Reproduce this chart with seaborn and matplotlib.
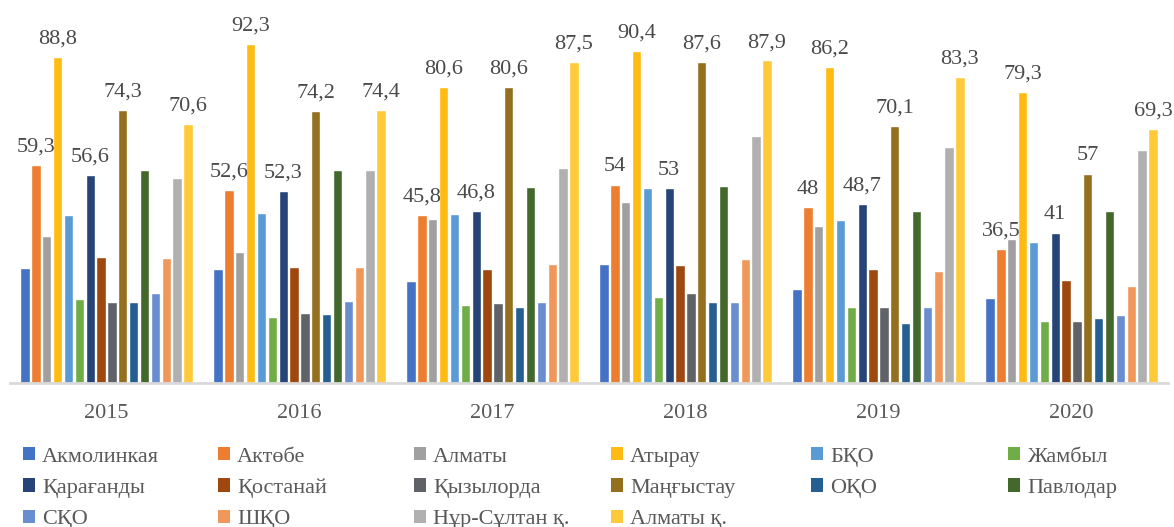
import matplotlib
matplotlib.use("Agg")
import matplotlib.pyplot as plt
from matplotlib.patches import Patch
import seaborn as sns
import pandas as pd

years = ["2015", "2016", "2017", "2018", "2019", "2020"]
regions = ["Акмолинкая", "Актөбе", "Алматы", "Атырау", "БҚО", "Жамбыл",
           "Қарағанды", "Қостанай", "Қызылорда", "Маңғыстау", "ОҚО", "Павлодар",
           "СҚО", "ШҚО", "Нұр-Сұлтан қ.", "Алматы қ."]

akmola     = [31.3, 31.0, 27.8, 32.3, 25.6, 23.2]
aktobe     = [59.3, 52.6, 45.8, 54.0, 48.0, 36.5]
almaty     = [40.0, 35.7, 44.7, 49.2, 42.8, 39.2]
atyrau     = [88.8, 92.3, 80.6, 90.4, 86.2, 79.3]
bko        = [45.8, 46.3, 46.0, 53.1, 44.4, 38.4]
zhambyl    = [22.9, 18.0, 21.2, 23.4, 20.7, 16.9]
karagandy  = [56.6, 52.3, 46.8, 53.0, 48.7, 41.0]
kostanay   = [34.4, 31.6, 31.0, 32.1, 31.1, 28.1]
kyzylorda  = [22.1, 19.0, 21.8, 24.5, 20.7, 16.9]
mangystau  = [74.3, 74.2, 80.6, 87.6, 70.1, 57.0]
oko        = [22.0, 18.8, 20.7, 22.1, 16.3, 17.7]
pavlodar   = [58.0, 58.0, 53.3, 53.7, 46.9, 46.9]
sko        = [24.5, 22.3, 22.1, 22.1, 20.7, 18.5]
shko       = [34.0, 31.6, 32.3, 33.8, 30.5, 26.4]
nur_sultan = [55.8, 58.0, 58.6, 67.3, 64.3, 63.5]
almaty_city = [70.6, 74.4, 87.5, 87.9, 83.3, 69.3]

series = [akmola, aktobe, almaty, atyrau, bko, zhambyl, karagandy, kostanay,
          kyzylorda, mangystau, oko, pavlodar, sko, shko, nur_sultan, almaty_city]
labeled = ["Актөбе", "Атырау", "Қарағанды", "Маңғыстау", "Алматы қ."]

colors = ["#4472C4", "#ED7D31", "#A0A0A0", "#FFBB12", "#5B9BD5", "#70AD47",
          "#264478", "#9E480E", "#5F6266", "#946F1E", "#255E91", "#43682B",
          "#698ED0", "#F1975A", "#B0B0B0", "#FFCA3A"]

rows = []
for reg, vals in zip(regions, series):
    for y, v in zip(years, vals):
        rows.append({"year": y, "region": reg, "value": v})
df = pd.DataFrame(rows)

sns.set_style("white")
plt.rcParams["font.family"] = ["Liberation Serif", "DejaVu Serif"]

fig = plt.figure(figsize=(11.74, 5.27), dpi=100)
ax = fig.add_axes([10 / 1174, (527 - 383) / 527, 1158 / 1174, 373 / 527])

sns.barplot(data=df, x="year", y="value", hue="region", hue_order=regions,
            order=years, palette=colors, width=0.9, gap=0.15, saturation=1,
            legend=False, ax=ax)

ax.set_ylim(0, 373 / 3.67)
ax.set_xlim(-0.5, 5.5)
ax.set_xlabel("")
ax.set_ylabel("")
ax.set_yticks([])
for s in ["top", "right", "left"]:
    ax.spines[s].set_visible(False)
ax.spines["bottom"].set_color("#D9D9D9")
ax.spines["bottom"].set_linewidth(2)
ax.tick_params(axis="x", length=0, pad=15, labelsize=16, labelcolor="#595959")


def fmt(v):
    return f"{v:g}".replace(".", ",")


for i, reg in enumerate(regions):
    if reg in labeled:
        cont = ax.containers[i]
        ax.bar_label(cont, labels=[fmt(v) for v in series[i]], padding=6,
                     fontsize=16, color="#4a4a4a")

# legend laid out row-wise in 6 columns
col_x = [23, 218, 414, 611, 811, 1008]
for c in range(6):
    idx = [c + 6 * r for r in range(3) if c + 6 * r < len(regions)]
    handles = [Patch(facecolor=colors[i], edgecolor="none") for i in idx]
    labs = [regions[i] for i in idx]
    fig.legend(handles, labs, loc="upper left",
               bbox_to_anchor=(col_x[c] / 1174, 1 - 447 / 527),
               frameon=False, fontsize=16, handlelength=0.55, handleheight=0.55,
               handletextpad=0.3, labelspacing=0.53, borderpad=0,
               borderaxespad=0, labelcolor="#595959")

fig.savefig("out.png", dpi=100)
